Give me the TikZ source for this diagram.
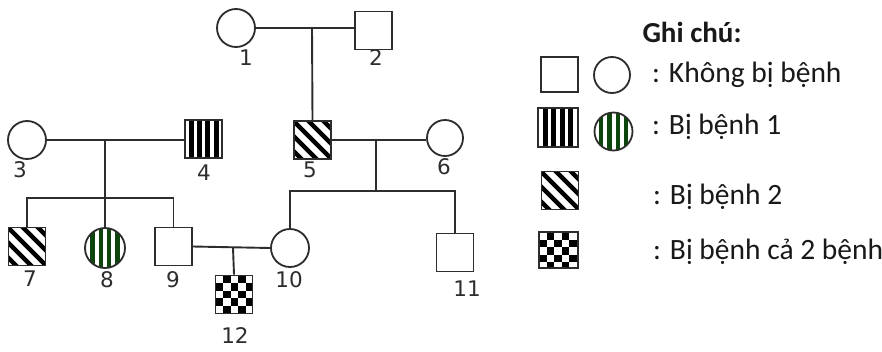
\documentclass[tikz,border=0pt]{standalone}
\usepackage{fontspec}
\setmainfont{Carlito}
\newfontfamily\numfont{DejaVu Sans}
\definecolor{dkgreen}{RGB}{12,70,12}
\definecolor{ink}{RGB}{45,45,45}
\begin{document}
\begin{tikzpicture}[x=1pt,y=-1pt,
 ln/.style={line width=1.9pt, draw=ink},
 male/.style={rectangle, draw=ink, line width=1.8pt, minimum width=37pt, minimum height=38pt, inner sep=0pt, fill=white},
 female/.style={circle, draw=ink, line width=1.8pt, minimum size=38pt, inner sep=0pt, fill=white},
 num/.style={font=\numfont\fontsize{21.5}{21.5}\selectfont, text=ink, inner sep=0pt},
 legtext/.style={font=\fontsize{29.5}{30}\selectfont, anchor=west, inner sep=0pt, text=black!90},
 vstripes/.style={path picture={\foreach \c in {-12.5,-4.2,4.2,12.5}{\fill[black] ([xshift={(\c-2.5)*1pt}, yshift=30pt]path picture bounding box.center) rectangle ++(5pt,-60pt);}}},
 gstripes/.style={path picture={\foreach \c in {-12.5,-4.2,4.2,12.5}{\fill[dkgreen] ([xshift={(\c-2.2)*1pt}, yshift=30pt]path picture bounding box.center) rectangle ++(4.4pt,-60pt);}}},
 dstripes/.style={path picture={\foreach \c in {-30,-15,0,15,30}{\draw[black, line width=4.5pt] ([xshift={(\c-30)*1pt}, yshift=30pt]path picture bounding box.center) -- ++(60pt,-60pt);}}},
 checker/.style={path picture={\foreach \i/\j in {1/0,3/0,0/1,2/1,4/1,1/2,3/2,0/3,2/3,4/3,1/4,3/4}{\fill[black] ([xshift={\i*7.6pt}, yshift={-\j*7.5pt}]path picture bounding box.north west) rectangle ++(7.6pt,-7.5pt);}}}
]
\useasboundingbox (0,0) rectangle (882,351);
\fill[white] (0,0) rectangle (882,351);

% generation I
\node[female] (n1) at (236,28) {};
\node[male] (n2) at (373.5,30.5) {};
\node[num] (l1) at (246,58) {1};
\node[num] (l2) at (376,58) {2};
\coordinate (m12) at (312,28);
\draw[ln] (n1.east) -- (n1.east -| n2.west);

% generation II
\node[female] (n3) at (27,140) {};
\node[male, vstripes] (n4) at (203.5,139) {};
\node[male, dstripes] (n5) at (312.5,140) {};
\node[female, minimum size=36pt] (n6) at (445,138) {};
\node[num] (l3) at (20,170) {3};
\node[num] (l4) at (204,173) {4};
\node[num] (l5) at (310,170) {5};
\node[num] (l6) at (444,167) {6};
\draw[ln] (m12) -- (n5.north);
\draw[ln] (n3.east) -- (n3.east -| n4.west);
\draw[ln] (n5.east) -- (n5.east -| n6.west);
\coordinate (m34) at (105,140);
\coordinate (s34) at (105,198);
\coordinate (m56) at (376,140);
\coordinate (s56) at (376,191);

% generation III
\node[male, dstripes] (n7) at (27,246.5) {};
\node[female, gstripes, minimum size=40pt] (n8) at (105,248) {};
\node[male] (n9) at (173.5,246.5) {};
\node[female] (n10) at (290,248) {};
\node[male] (n11) at (455,252.5) {};
\node[num] (l7) at (30,279) {7};
\node[num] (l8) at (107,280) {8};
\node[num] (l9) at (173,280) {9};
\node[num] (l10) at (289,280) {10};
\node[num] (l11) at (467,289) {11};
\draw[ln] (m34) -- (s34);
\draw[ln] (n7.north) -- (n7.north |- s34) -- (n9.north |- s34) -- (n9.north);
\draw[ln] (s34) -- (n8.north);
\draw[ln] (m56) -- (s56);
\draw[ln] (n10.north) -- (n10.north |- s56) -- (n11.north |- s56) -- (n11.north);

% generation IV
\node[male, checker] (n12) at (234,294.5) {};
\node[num] (l12) at (235,336) {12};
\draw[ln] (n9.east) -- (n10.west);
\coordinate (m910) at (233,248);
\draw[ln] (m910) -- (n12.north);

% legend
\node[font=\bfseries\fontsize{29}{30}\selectfont, text=black!90, inner sep=0pt] (gh) at (692,32) {Ghi chú:};
\node[male, minimum height=35pt] (k1) at (559.5,74.5) {};
\node[female, minimum size=36pt] (k2) at (612,75) {};
\node[legtext] (t1) at (652,75) {: Không bị bệnh};
\node[male, vstripes, minimum width=40pt, minimum height=39pt] (k3) at (558,127.5) {};
\node[female, gstripes] (k4) at (613.5,131.5) {};
\node[legtext] (t2) at (652,127) {: Bị bệnh 1};
\node[male, dstripes] (k5) at (560,190.5) {};
\node[legtext] (t3) at (653,197) {: Bị bệnh 2};
\node[male, checker, minimum width=39pt, minimum height=36pt] (k6) at (558.5,250) {};
\node[legtext] (t4) at (653,252) {: Bị bệnh cả 2 bệnh};
\end{tikzpicture}
\end{document}
